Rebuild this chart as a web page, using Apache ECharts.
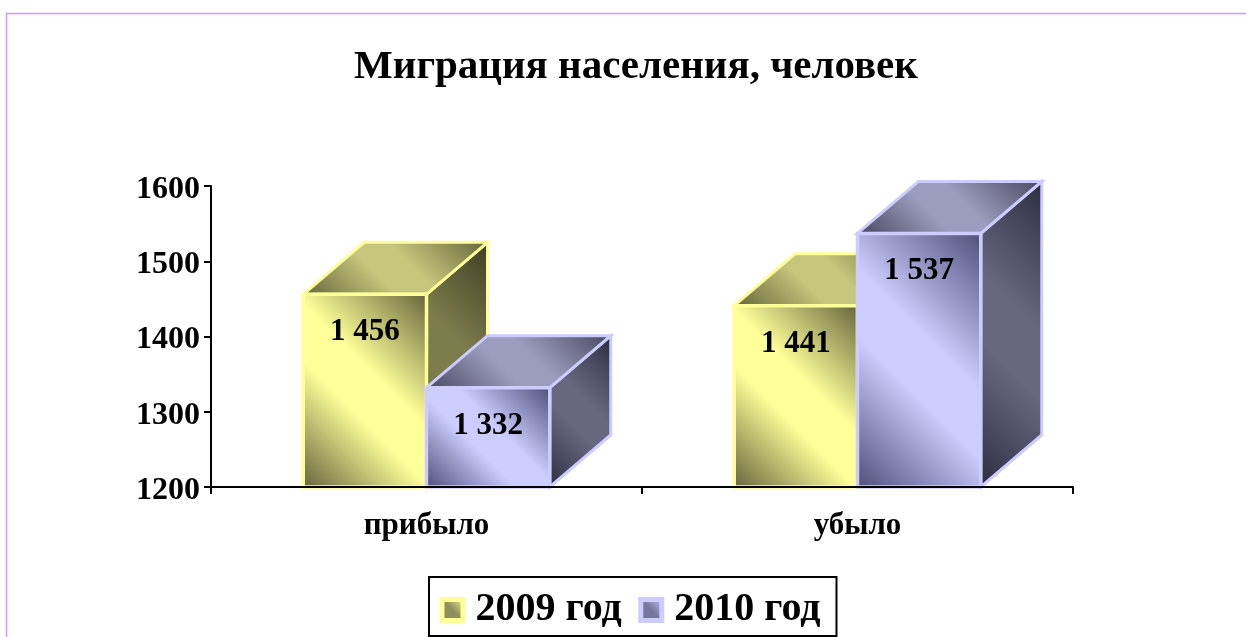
<!DOCTYPE html>
<html><head><meta charset="utf-8">
<style>html,body{margin:0;padding:0;background:#fff;overflow:hidden}#c{width:1246px;height:637px}</style>
<script src="https://cdn.jsdelivr.net/npm/echarts@6/dist/echarts.min.js"></script>
</head><body><div id="c"></div>
<script>
const categories = ['прибыло', 'убыло'];
const values2009 = [1456, 1441];
const values2010 = [1332, 1537];
const yTicks = { min: 1200, max: 1600, interval: 100 };
const FONT = '"Liberation Serif", "Times New Roman", serif';
const DEPTH = [61, -52], BAR_FRAC = 0.286;

const palettes = {
  y: { edge:'#FFFF99', front:['#66663D','#FFFF99'], top:['#66663C','#C6C67C'], side:['#3F3F25','#7D7D4C'], swatch:'#8F8F5C' },
  b: { edge:'#CCCCFF', front:['#50507A','#CCCCFF'], top:['#494963','#9C9CBE'], side:['#2E2E42','#676780'], swatch:'#77779C' }
};
function diag(pts, cols) {
  const xs = pts.map(p=>p[0]), ys = pts.map(p=>p[1]);
  const x0=Math.min(...xs), x1=Math.max(...xs), y0=Math.min(...ys), y1=Math.max(...ys);
  const cx=(x0+x1)/2, cy=(y0+y1)/2, d=((x1-x0)+(y1-y0))/4;
  return { type:'linear', global:true, x:cx-d, y:cy+d, x2:cx+d, y2:cy-d,
    colorStops:[{offset:0,color:cols[0]},{offset:.4,color:cols[1]},{offset:.58,color:cols[1]},{offset:1,color:cols[0]}] };
}
function poly(pts, cols, edge, lw) {
  return { type:'polygon', shape:{points:pts}, style:{fill:diag(pts,cols), stroke:edge, lineWidth:lw, lineJoin:'miter'} };
}
function bar(seriesIdx, pal) {
  return function(params, api) {
    const cat = api.value(0), val = api.value(1);
    const w = api.size([1,0])[0]*BAR_FRAC;
    const top = api.coord([cat,val]), base = api.coord([cat,yTicks.min]);
    const x0 = top[0] + (seriesIdx===0 ? -w : 0), x1 = x0+w, yt = top[1], yb = base[1];
    const dx=DEPTH[0], dy=DEPTH[1];
    return { type:'group', children:[
      poly([[x1,yt],[x1+dx,yt+dy],[x1+dx,yb+dy],[x1,yb]], pal.side, pal.edge, 3),
      poly([[x0,yt],[x0+dx,yt+dy],[x1+dx,yt+dy],[x1,yt]], pal.top, pal.edge, 3),
      poly([[x0,yt],[x1,yt],[x1,yb],[x0,yb]], pal.front, pal.edge, 3.5),
      { type:'text', style:{ x:(x0+x1)/2, y:yt+38, text:String(val).replace(/(\d)(\d{3})$/,'$1 $2'),
        align:'center', verticalAlign:'middle', fill:'#000', font:'bold 31px '+FONT } }
    ]};
  };
}
function legendFill(p){return {type:'linear',x:0,y:1,x2:1,y2:0,colorStops:[{offset:0,color:p.swatch},{offset:.5,color:p.swatch},{offset:1,color:p.edge}]};}

const chart = echarts.init(document.getElementById('c'), null, {renderer:'canvas'});
chart.setOption({
  animation:false,
  backgroundColor:'#fff',
  title:{ text:'Миграция населения, человек', left:631, textAlign:'center', top:42,
    textStyle:{ fontFamily:FONT, fontWeight:'bold', fontSize:41, color:'#000' } },
  grid:{ left:211, right:173, top:186, bottom:150 },
  xAxis:{ type:'category', data:categories, z:5,
    axisLine:{lineStyle:{color:'#000',width:2}},
    axisTick:{show:true,length:7,lineStyle:{color:'#000',width:2}},
    axisLabel:{ fontFamily:FONT, fontWeight:'bold', fontSize:31, color:'#000', margin:23 } },
  yAxis:{ type:'value', min:yTicks.min, max:yTicks.max, interval:yTicks.interval, z:5,
    splitLine:{show:false},
    axisLine:{show:true,lineStyle:{color:'#000',width:2}},
    axisTick:{show:true,length:7,lineStyle:{color:'#000',width:2}},
    axisLabel:{ color:'#000', margin:11, formatter:v=>'{a|'+v+'}',
      rich:{ a:{ fontFamily:FONT, fontWeight:'bold', fontSize:32, color:'#000', padding:[7,0,0,0] } } } },
  legend:{ left:429, top:577, orient:'horizontal', itemWidth:21, itemHeight:21, itemGap:16.5,
    padding:[13,16,6,10.5], borderColor:'#000', borderWidth:2, backgroundColor:'#fff', icon:'rect',
    itemStyle:{ borderWidth:5, borderColor:'inherit' },
    data:['2009 год','2010 год'],
    textStyle:{ fontFamily:FONT, fontWeight:'bold', fontSize:40, color:'#000', padding:[0,0,0,7.5] } },
  graphic:[{ type:'polyline', silent:true, shape:{points:[[6.5,640],[6.5,13.5],[1250,13.5]]},
    style:{ fill:'none', stroke:'#CC99FF', lineWidth:1.5 } }],
  series:[
    { name:'2009 год', type:'custom', renderItem:bar(0,palettes.y), clip:false, encode:{x:0,y:1},
      itemStyle:{color:legendFill(palettes.y),borderColor:palettes.y.edge},
      data:categories.map((c,i)=>[i,values2009[i]]) },
    { name:'2010 год', type:'custom', renderItem:bar(1,palettes.b), clip:false, encode:{x:0,y:1},
      itemStyle:{color:legendFill(palettes.b),borderColor:palettes.b.edge},
      data:categories.map((c,i)=>[i,values2010[i]]) }
  ]
});
</script></body></html>
